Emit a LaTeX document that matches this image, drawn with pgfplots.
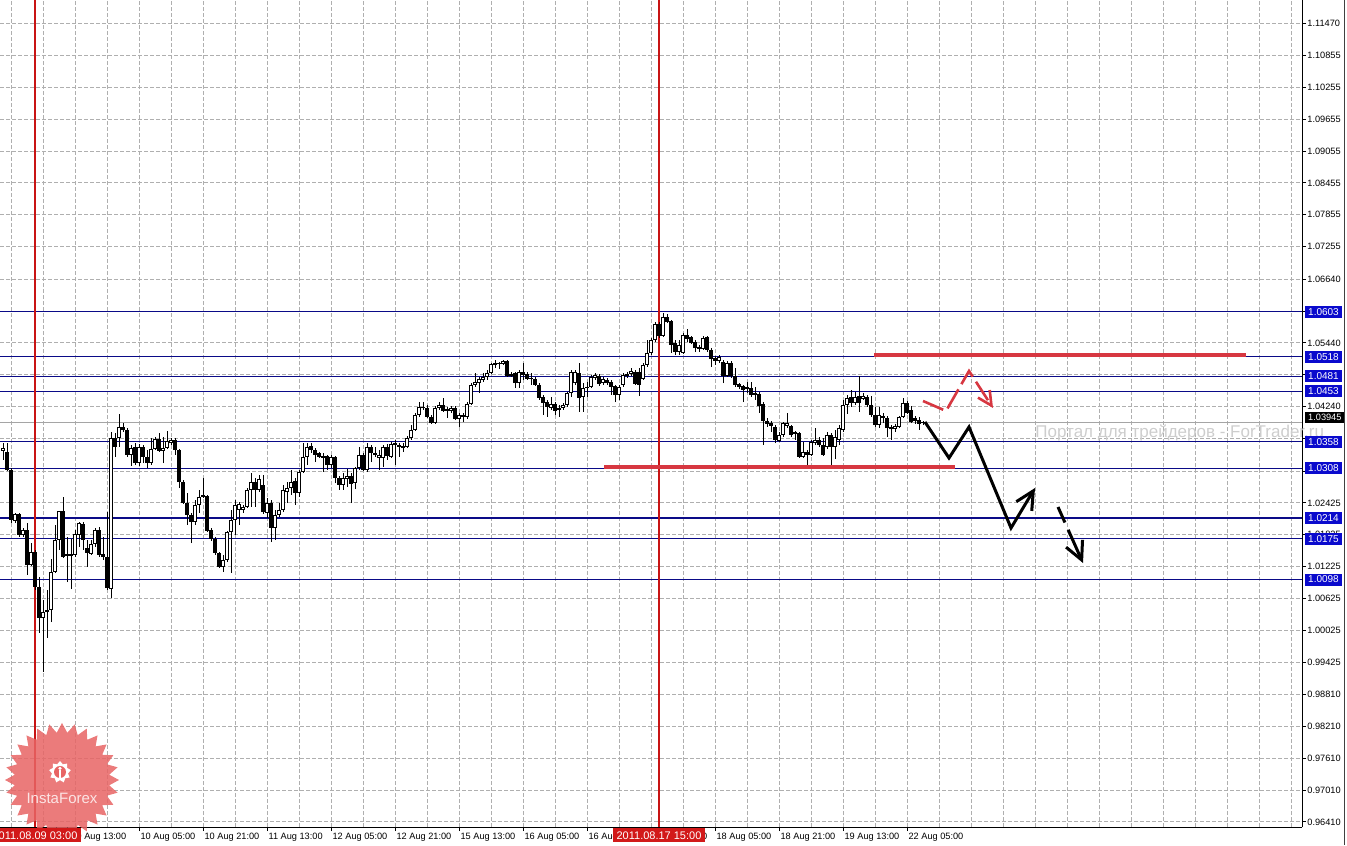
\documentclass[border=0pt]{standalone}
\usepackage{fontspec}
\setmainfont{Liberation Sans}
\usepackage{pgfplots}
\pgfplotsset{compat=1.18}
\usepackage{pgfplotstable}
\usetikzlibrary{arrows.meta,shapes.geometric}

\definecolor{navyline}{RGB}{10,10,135}
\definecolor{bluebox}{RGB}{10,10,205}
\definecolor{vred}{RGB}{200,20,20}
\definecolor{lvlred}{RGB}{215,55,65}
\definecolor{datered}{RGB}{210,25,25}
\definecolor{gridgray}{RGB}{175,175,175}
\definecolor{bidgray}{RGB}{165,165,165}
\definecolor{wmgray}{RGB}{205,205,205}
\definecolor{starred}{RGB}{232,100,100}
\definecolor{startext}{RGB}{252,228,228}

\pgfplotstableread{
x o h l c
-18 1.03403 1.03553 1.03233 1.03459
-17 1.03384 1.03553 1.03026 1.03045
-16 1.03045 1.03082 1.02045 1.02102
-15 1.02083 1.02234 1.02045 1.02216
-14 1.02216 1.02234 1.01782 1.01820
-13 1.01820 1.01951 1.01782 1.01914
-12 1.01914 1.02045 1.01066 1.01254
-11 1.01254 1.01668 1.01235 1.01499
-10 1.01499 1.01537 1.00783 1.00839
-9 1.00839 1.01028 0.99972 1.00255
-8 1.00255 1.00594 0.99237 1.00368
-7 1.00368 1.00783 0.99878 1.00406
-6 1.00406 1.01367 1.00179 1.01122
-5 1.01122 1.02008 1.01103 1.01725
-4 1.01725 1.02272 1.01537 1.02272
-3 1.02272 1.02536 1.01386 1.01405
-2 1.01424 1.01782 1.00933 1.01462
-1 1.01424 1.01744 1.00801 1.01462
0 1.01443 1.01914 1.01405 1.01839
1 1.01820 1.02064 1.01593 1.02045
2 1.02027 1.02064 1.01537 1.01725
3 1.01574 1.01725 1.01216 1.01480
4 1.01462 1.01725 1.01443 1.01650
5 1.01650 1.01951 1.01593 1.01914
6 1.01914 1.01970 1.01405 1.01443
7 1.01462 1.01782 1.01348 1.01405
8 1.01405 1.02253 1.00783 1.00820
9 1.00801 1.03761 1.00632 1.03648
10 1.03648 1.03742 1.03290 1.03478
11 1.03648 1.04101 1.03478 1.03855
12 1.03855 1.03930 1.03761 1.03799
13 1.03799 1.03836 1.03290 1.03328
14 1.03328 1.03516 1.03120 1.03459
15 1.03478 1.03553 1.03139 1.03176
16 1.03176 1.03535 1.03120 1.03478
17 1.03478 1.03516 1.03176 1.03290
18 1.03290 1.03422 1.03082 1.03176
19 1.03176 1.03648 1.03139 1.03440
20 1.03440 1.03667 1.03422 1.03629
21 1.03629 1.03742 1.03384 1.03403
22 1.03403 1.03667 1.03176 1.03459
23 1.03459 1.03780 1.03440 1.03591
24 1.03553 1.03648 1.03516 1.03610
25 1.03610 1.03648 1.03328 1.03422
26 1.03422 1.03440 1.02705 1.02818
27 1.02818 1.02856 1.02404 1.02422
28 1.02422 1.02611 1.02008 1.02197
29 1.02197 1.02234 1.01668 1.02064
30 1.02064 1.02479 1.02008 1.02385
31 1.02385 1.02668 1.02234 1.02536
32 1.02536 1.02894 1.02517 1.02574
33 1.02555 1.02574 1.01876 1.01895
34 1.01914 1.01951 1.01706 1.01744
35 1.01744 1.01782 1.01443 1.01480
36 1.01480 1.01499 1.01197 1.01216
37 1.01216 1.01443 1.01122 1.01348
38 1.01348 1.01895 1.01310 1.01876
39 1.01876 1.02291 1.01103 1.02102
40 1.02102 1.02479 1.01820 1.02385
41 1.02291 1.02441 1.02008 1.02404
42 1.02291 1.02385 1.02234 1.02347
43 1.02347 1.02705 1.02328 1.02668
44 1.02668 1.02988 1.02347 1.02818
45 1.02818 1.02894 1.02347 1.02668
46 1.02668 1.02951 1.02630 1.02875
47 1.02762 1.02951 1.02216 1.02253
48 1.02234 1.02517 1.02140 1.02422
49 1.02422 1.02479 1.01687 1.01951
50 1.01951 1.02291 1.01725 1.02197
51 1.02197 1.02422 1.02159 1.02291
52 1.02291 1.02762 1.02253 1.02668
53 1.02630 1.02818 1.02422 1.02705
54 1.02705 1.03045 1.02574 1.02818
55 1.02837 1.02894 1.02385 1.02611
56 1.02611 1.03045 1.02536 1.03007
57 1.03007 1.03553 1.02988 1.03290
58 1.03290 1.03553 1.03139 1.03478
59 1.03497 1.03553 1.03365 1.03422
60 1.03422 1.03459 1.03195 1.03328
61 1.03365 1.03384 1.03271 1.03290
62 1.03271 1.03365 1.03007 1.03309
63 1.03309 1.03328 1.03045 1.03139
64 1.03139 1.03328 1.03082 1.03290
65 1.03290 1.03309 1.02799 1.02894
66 1.02894 1.02932 1.02668 1.02762
67 1.02762 1.02988 1.02668 1.02894
68 1.02875 1.03063 1.02724 1.02932
69 1.02932 1.02988 1.02422 1.02781
70 1.02799 1.03101 1.02686 1.03082
71 1.03082 1.03478 1.03045 1.03328
72 1.03328 1.03365 1.03026 1.03045
73 1.03045 1.03553 1.03007 1.03478
74 1.03478 1.03516 1.03195 1.03365
75 1.03365 1.03478 1.03290 1.03328
76 1.03271 1.03422 1.03045 1.03328
77 1.03271 1.03516 1.03101 1.03478
78 1.03478 1.03535 1.03233 1.03309
79 1.03290 1.03572 1.03271 1.03535
80 1.03553 1.03610 1.03139 1.03516
81 1.03516 1.03553 1.03290 1.03478
82 1.03497 1.03553 1.03384 1.03459
83 1.03478 1.03686 1.03459 1.03648
84 1.03648 1.03893 1.03610 1.03799
85 1.03799 1.04119 1.03780 1.04082
86 1.04082 1.04326 1.04044 1.04232
87 1.04232 1.04326 1.04176 1.04213
88 1.04213 1.04270 1.04025 1.04044
89 1.04044 1.04082 1.03912 1.03930
90 1.03930 1.04251 1.03912 1.04213
91 1.04213 1.04326 1.04176 1.04270
92 1.04270 1.04402 1.04138 1.04157
93 1.04194 1.04232 1.04025 1.04157
94 1.04157 1.04251 1.04119 1.04213
95 1.04213 1.04251 1.03987 1.04006
96 1.04006 1.04119 1.03855 1.04082
97 1.04044 1.04119 1.03949 1.04082
98 1.04044 1.04326 1.04006 1.04289
99 1.04289 1.04684 1.04270 1.04647
100 1.04647 1.04873 1.04609 1.04703
101 1.04684 1.04798 1.04496 1.04760
102 1.04741 1.04873 1.04703 1.04798
103 1.04798 1.04930 1.04741 1.04873
104 1.04873 1.05061 1.04855 1.05043
105 1.05024 1.05118 1.04967 1.05061
106 1.05043 1.05080 1.04948 1.05061
107 1.05043 1.05118 1.05024 1.05099
108 1.05099 1.05118 1.04798 1.04817
109 1.04855 1.04892 1.04798 1.04817
110 1.04873 1.04892 1.04590 1.04684
111 1.04684 1.04930 1.04590 1.04892
112 1.04892 1.05061 1.04741 1.04836
113 1.04855 1.04892 1.04741 1.04760
114 1.04779 1.04873 1.04647 1.04760
115 1.04760 1.04798 1.04628 1.04647
116 1.04647 1.04684 1.04364 1.04402
117 1.04421 1.04459 1.04082 1.04307
118 1.04326 1.04364 1.04044 1.04232
119 1.04213 1.04421 1.04176 1.04289
120 1.04289 1.04326 1.04082 1.04157
121 1.04176 1.04270 1.04044 1.04213
122 1.04213 1.04307 1.04176 1.04270
123 1.04270 1.04515 1.04232 1.04496
124 1.04496 1.04930 1.04421 1.04892
125 1.04684 1.04930 1.04647 1.04892
126 1.04873 1.05061 1.04138 1.04402
127 1.04421 1.04684 1.04138 1.04590
128 1.04590 1.04703 1.04421 1.04609
129 1.04609 1.04836 1.04590 1.04798
130 1.04779 1.04873 1.04741 1.04836
131 1.04817 1.04855 1.04628 1.04666
132 1.04684 1.04798 1.04647 1.04760
133 1.04741 1.04779 1.04647 1.04684
134 1.04703 1.04741 1.04459 1.04609
135 1.04628 1.04647 1.04326 1.04459
136 1.04459 1.04647 1.04364 1.04609
137 1.04647 1.04873 1.04609 1.04836
138 1.04817 1.04892 1.04779 1.04855
139 1.04855 1.04967 1.04817 1.04911
140 1.04892 1.04930 1.04647 1.04666
141 1.04892 1.04967 1.04440 1.04647
142 1.04760 1.05061 1.04741 1.05024
143 1.05024 1.05495 1.04986 1.05250
144 1.05250 1.05533 1.05213 1.05495
145 1.05495 1.05834 1.05457 1.05797
146 1.05797 1.05834 1.05533 1.05571
147 1.05571 1.06004 1.05552 1.05929
148 1.05929 1.05986 1.05815 1.05834
149 1.05853 1.05872 1.05250 1.05401
150 1.05438 1.05495 1.05213 1.05269
151 1.05269 1.05495 1.05213 1.05401
152 1.05250 1.05627 1.05232 1.05589
153 1.05589 1.05702 1.05457 1.05514
154 1.05552 1.05571 1.05420 1.05438
155 1.05457 1.05495 1.05269 1.05344
156 1.05363 1.05401 1.05269 1.05325
157 1.05325 1.05571 1.05307 1.05533
158 1.05552 1.05571 1.05269 1.05307
159 1.05307 1.05344 1.04986 1.05137
160 1.05156 1.05194 1.05024 1.05099
161 1.05099 1.05213 1.05061 1.05175
162 1.05080 1.05118 1.04684 1.04817
163 1.04817 1.05099 1.04798 1.05061
164 1.05061 1.05099 1.04779 1.04817
165 1.04817 1.04967 1.04609 1.04647
166 1.04666 1.04684 1.04571 1.04609
167 1.04628 1.04647 1.04326 1.04553
168 1.04571 1.04703 1.04496 1.04609
169 1.04590 1.04703 1.04421 1.04459
170 1.04496 1.04609 1.04364 1.04459
171 1.04478 1.04515 1.04119 1.04251
172 1.04289 1.04326 1.03516 1.03968
173 1.03968 1.04025 1.03855 1.03912
174 1.03930 1.03968 1.03761 1.03874
175 1.03855 1.03893 1.03553 1.03610
176 1.03591 1.03761 1.03572 1.03705
177 1.03705 1.03949 1.03667 1.03930
178 1.03874 1.04119 1.03836 1.03930
179 1.03874 1.03893 1.03667 1.03705
180 1.03761 1.03780 1.03610 1.03724
181 1.03742 1.03761 1.03271 1.03290
182 1.03290 1.03572 1.03271 1.03384
183 1.03384 1.03422 1.03139 1.03328
184 1.03328 1.03610 1.03309 1.03572
185 1.03553 1.03836 1.03516 1.03610
186 1.03610 1.03667 1.03478 1.03516
187 1.03516 1.03648 1.03309 1.03328
188 1.03478 1.03761 1.03440 1.03705
189 1.03705 1.03742 1.03101 1.03478
190 1.03478 1.03799 1.03252 1.03667
191 1.03610 1.03893 1.03516 1.03836
192 1.03799 1.04364 1.03761 1.04270
193 1.04270 1.04459 1.04101 1.04402
194 1.04421 1.04553 1.04232 1.04307
195 1.04307 1.04515 1.04270 1.04421
196 1.04440 1.04817 1.04138 1.04307
197 1.04383 1.04496 1.04364 1.04440
198 1.04421 1.04459 1.04232 1.04270
199 1.04270 1.04440 1.04044 1.04082
200 1.04082 1.04232 1.03855 1.03893
201 1.03893 1.04232 1.03836 1.04082
202 1.04063 1.04119 1.03930 1.04025
203 1.04025 1.04063 1.03667 1.03836
204 1.03855 1.03893 1.03610 1.03817
205 1.03817 1.03912 1.03761 1.03874
206 1.03855 1.04063 1.03836 1.04044
207 1.04044 1.04402 1.04025 1.04307
208 1.04307 1.04345 1.04101 1.04119
209 1.04176 1.04251 1.03930 1.03949
210 1.04025 1.04063 1.03912 1.03968
211 1.03987 1.04044 1.03799 1.03912
212 1.03930 1.03968 1.03893 1.03945
}\candles

\begin{document}
\begin{tikzpicture}
\useasboundingbox (0,0) rectangle (673.5pt,422.5pt);
\clip (0,0) rectangle (673.5pt,422.5pt);
\begin{axis}[
  at={(0pt,9pt)}, anchor=south west,
  scale only axis, width=651pt, height=413.5pt,
  xmin=-18.75, xmax=306.75,
  ymin=0.96315, ymax=1.11904,
  clip=false,
  axis x line*=bottom, axis y line*=right,
  axis line style={-, black, line width=0.5pt},
  xtick={-16,0,...,208},
  xticklabels={8 Aug 21:00,9 Aug 13:00,10 Aug 05:00,10 Aug 21:00,11 Aug 13:00,12 Aug 05:00,12 Aug 21:00,15 Aug 13:00,16 Aug 05:00,16 Aug 21:00,17 Aug 13:00,18 Aug 05:00,18 Aug 21:00,19 Aug 13:00,22 Aug 05:00},
  minor xtick={-8,8,...,200,216,224,...,304},
  ytick={0.96410,0.97010,0.97610,0.98210,0.98810,0.99425,1.00025,1.00625,1.01225,1.01825,1.02425,1.03025,1.03640,1.04240,1.04840,1.05440,1.06040,1.06640,1.07255,1.07855,1.08455,1.09055,1.09655,1.10255,1.10855,1.11470},
  yticklabels={0.96410,0.97010,0.97610,0.98210,0.98810,0.99425,1.00025,1.00625,1.01225,1.01825,1.02425,,,1.04240,,1.05440,,1.06640,1.07255,1.07855,1.08455,1.09055,1.09655,1.10255,1.10855,1.11470},
  grid=both,
  major grid style={gridgray, dash pattern=on 2pt off 1pt, line width=0.5pt},
  minor grid style={gridgray, dash pattern=on 2pt off 1pt, line width=0.5pt},
  tick align=outside,
  major tick length=2pt, minor tick length=0pt,
  tick style={black, line width=0.5pt},
  xticklabel style={font=\fontsize{4.6}{5}\selectfont, anchor=north west, inner sep=0pt, xshift=0.6pt, yshift=-0.8pt},
  yticklabel style={font=\fontsize{4.6}{5}\selectfont, anchor=west, inner sep=0pt, xshift=0.5pt},
]
% horizontal level lines
\draw[navyline, line width=0.6pt] (axis cs:-18.75,1.0603) -- (axis cs:306.75,1.0603);
\draw[navyline, line width=0.6pt] (axis cs:-18.75,1.0518) -- (axis cs:306.75,1.0518);
\draw[navyline, line width=0.6pt] (axis cs:-18.75,1.0481) -- (axis cs:306.75,1.0481);
\draw[navyline, line width=0.6pt] (axis cs:-18.75,1.0453) -- (axis cs:306.75,1.0453);
\draw[navyline, line width=0.6pt] (axis cs:-18.75,1.0358) -- (axis cs:306.75,1.0358);
\draw[navyline, line width=0.6pt] (axis cs:-18.75,1.0308) -- (axis cs:306.75,1.0308);
\draw[navyline, line width=0.6pt] (axis cs:-18.75,1.0214) -- (axis cs:306.75,1.0214);
\draw[navyline, line width=0.6pt] (axis cs:-18.75,1.0175) -- (axis cs:306.75,1.0175);
\draw[navyline, line width=0.6pt] (axis cs:-18.75,1.0098) -- (axis cs:306.75,1.0098);
% bid line
\draw[bidgray, line width=0.5pt] (axis cs:-18.75,1.03945) -- (axis cs:306.75,1.03945);
% vertical red lines
\draw[vred, line width=0.6pt] (axis cs:-10,0.96315) -- (axis cs:-10,1.11904);
\draw[vred, line width=0.6pt] (axis cs:146,0.96315) -- (axis cs:146,1.11904);
% watermark
\node[anchor=west, text=wmgray, font=\fontsize{8.5}{10}\selectfont, inner sep=0pt] at (axis cs:240,1.03742) {Портал для трейдеров - ForTrader.ru};
% candles: wicks
\addplot[draw=none, mark=none, error bars/.cd, y dir=plus, y explicit, error mark=none,
  error bar style={draw=black, line width=0.5pt, solid}]
  table[x=x, y=l, y error plus expr={\thisrow{h}-\thisrow{l}}] {\candles};
% bodies
\addplot[draw=none, mark=none, error bars/.cd, y dir=plus, y explicit, error mark=none,
  error bar style={draw=black, line width=1.6pt, solid}]
  table[x=x, y expr={min(\thisrow{o},\thisrow{c})}, y error plus expr={max(abs(\thisrow{c}-\thisrow{o}),0.00019)}] {\candles};
% white inner of bullish bodies
\addplot[draw=none, mark=none, error bars/.cd, y dir=plus, y explicit, error mark=none,
  error bar style={draw=white, line width=0.55pt, solid}]
  table[x=x, y expr={min(\thisrow{o},\thisrow{c})+0.00019}, y error plus expr={max(\thisrow{c}-\thisrow{o}-0.00038,0)}] {\candles};
% red support / resistance
\addplot[lvlred, line width=2pt, mark=none] coordinates {(132.25,1.0310) (220,1.0310)};
\addplot[lvlred, line width=2pt, mark=none] coordinates {(199.75,1.0521) (292.75,1.0521)};
% red dashed scenario
\addplot[lvlred, line width=1.3pt, mark=none, dash pattern=on 11pt off 3pt, -{Straight Barb[length=7pt,width=7pt]}]
  coordinates {(212,1.04345) (217.75,1.04157) (223.5,1.04911) (229.5,1.04213)};
% black scenario
\addplot[black, line width=1.5pt, mark=none, -{Straight Barb[length=9pt,width=9pt]}]
  coordinates {(212.5,1.03949) (218.5,1.03271) (223.5,1.03855) (234,1.01951) (240,1.02705)};
\addplot[black, line width=1.5pt, mark=none, dash pattern=on 8.5pt off 4pt on 30pt off 0pt, -{Straight Barb[length=9pt,width=9pt]}]
  coordinates {(245.75,1.02347) (252,1.01291)};
% anchors for overlays
\coordinate (d1) at (axis cs:-10,0.96315);
\coordinate (d2) at (axis cs:146,0.96315);
\coordinate (st) at (axis cs:-3.25,0.97201);
\coordinate (R1) at (axis cs:306.75,1.0603);
\coordinate (R2) at (axis cs:306.75,1.0518);
\coordinate (R3) at (axis cs:306.75,1.0481);
\coordinate (R4) at (axis cs:306.75,1.0453);
\coordinate (R5) at (axis cs:306.75,1.0358);
\coordinate (R6) at (axis cs:306.75,1.0308);
\coordinate (R7) at (axis cs:306.75,1.0214);
\coordinate (R8) at (axis cs:306.75,1.0175);
\coordinate (R9) at (axis cs:306.75,1.0098);
\coordinate (RB) at (axis cs:306.75,1.0403);
\end{axis}
% InstaForex logo
\node[star, star points=28, star point ratio=1.2, minimum size=57pt, inner sep=0pt, fill=starred, fill opacity=0.85, draw=none] at (st) {};
\node[star, star points=9, star point ratio=1.35, minimum size=11pt, inner sep=0pt, fill=white] at ([xshift=-1pt,yshift=4pt]st) {};
\fill[starred] ([xshift=-1pt,yshift=4pt]st) circle (3pt);
\fill[white] ([xshift=-1pt,yshift=5.8pt]st) circle (0.9pt);
\fill[white] ([xshift=-1.6pt,yshift=1.2pt]st) rectangle ([xshift=-0.4pt,yshift=4.8pt]st);
\node[text=startext, font=\fontsize{7.5}{9}\selectfont, inner sep=0pt] at ([yshift=-9pt]st) {InstaForex};
% window border
\draw[black!75, line width=0.5pt] (672.25pt,0) -- (672.25pt,422.5pt);
% price boxes
\tikzset{bbox/.style={fill=bluebox, text=white, font=\fontsize{5}{6}\selectfont, inner xsep=1.4pt, inner ysep=0pt, minimum height=6pt, anchor=west}}
\node[bbox] at ([xshift=1.5pt]R1) {1.0603};
\node[bbox] at ([xshift=1.5pt]R2) {1.0518};
\node[bbox] at ([xshift=1.5pt]R3) {1.0481};
\node[bbox] at ([xshift=1.5pt]R4) {1.0453};
\node[bbox] at ([xshift=1.5pt]R5) {1.0358};
\node[bbox] at ([xshift=1.5pt]R6) {1.0308};
\node[bbox] at ([xshift=1.5pt]R7) {1.0214};
\node[bbox] at ([xshift=1.5pt]R8) {1.0175};
\node[bbox] at ([xshift=1.5pt]R9) {1.0098};
\node[fill=black, text=white, font=\fontsize{4.6}{5}\selectfont, inner xsep=1.4pt, inner ysep=0pt, minimum height=5.5pt, anchor=west] at ([xshift=1.5pt]RB) {1.03945};
% date boxes
\node[fill=datered, text=white, font=\fontsize{5.5}{6.5}\selectfont, inner xsep=2pt, inner ysep=0pt, minimum height=7pt, anchor=north] at ([yshift=-0.5pt]d1) {2011.08.09 03:00};
\node[fill=datered, text=white, font=\fontsize{5.5}{6.5}\selectfont, inner xsep=2pt, inner ysep=0pt, minimum height=7pt, anchor=north] at ([yshift=-0.5pt]d2) {2011.08.17 15:00};
\end{tikzpicture}
\end{document}
